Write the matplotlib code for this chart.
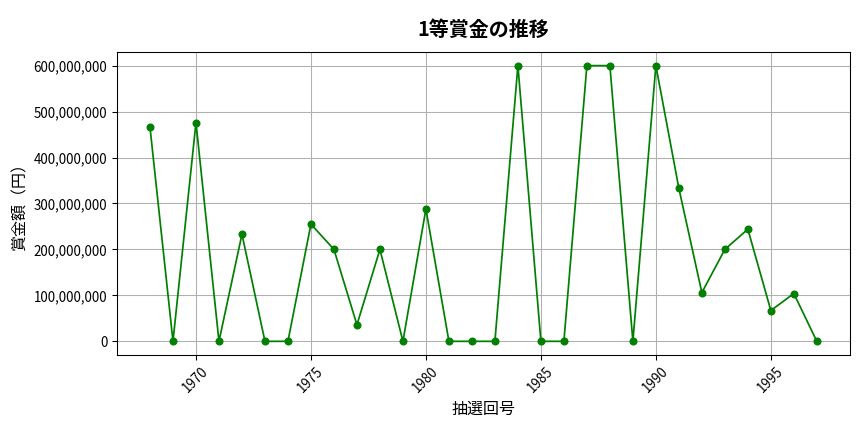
import matplotlib.pyplot as plt
import matplotlib.ticker as mticker

plt.rcParams['font.family'] = ['Noto Sans CJK JP', 'DejaVu Sans']

# -------------------------
# Data
# -------------------------
years = list(range(1968, 1998))
prize = [
    466e6, 0, 476e6, 0, 233e6, 0, 0, 255e6, 200e6, 36e6,
    200e6, 0, 288e6, 0, 0, 0, 600e6, 0, 0, 600e6,
    600e6, 0, 600e6, 333e6, 106e6, 200e6, 244e6, 67e6, 104e6, 0,
]

# -------------------------
# Plot
# -------------------------
fig, ax = plt.subplots(figsize=(9, 4.5), dpi=96)
ax.plot(years, prize, color="green", marker="o", markersize=5, linewidth=1.3)

ax.set_title("1等賞金の推移", fontsize=15, fontweight="bold", pad=12)
ax.set_xlabel("抽選回号", fontsize=12)
ax.set_ylabel("賞金額（円）", fontsize=12)
ax.yaxis.set_major_formatter(mticker.FuncFormatter(lambda v, p: f"{int(v):,}"))
ax.set_yticks(range(0, 600000001, 100000000))
ax.set_xticks(range(1970, 1998, 5))
plt.setp(ax.get_xticklabels(), rotation=45)
ax.grid(True, color="#b0b0b0", linewidth=0.8)

fig.subplots_adjust(left=0.135, right=0.984, top=0.88, bottom=0.178)
fig.savefig("out.png")
